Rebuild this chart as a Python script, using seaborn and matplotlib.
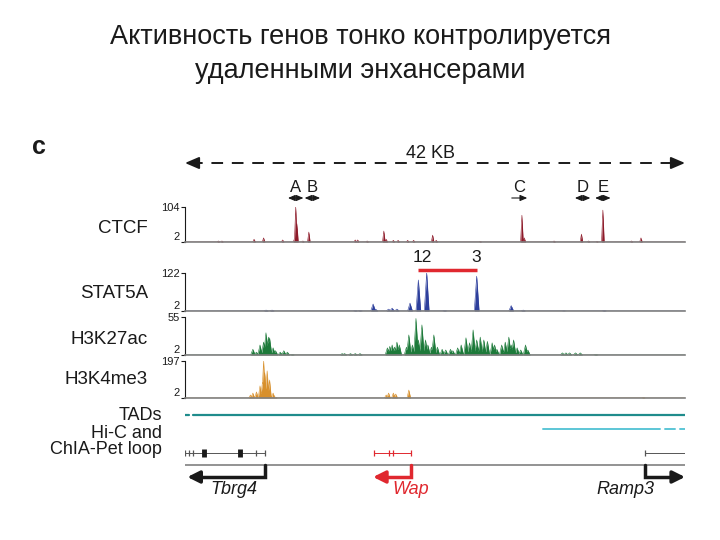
import numpy as np
import matplotlib
matplotlib.use('Agg')
import matplotlib.pyplot as plt
import seaborn as sns

# ---- данные (позиции в т.п.н. от левого края, 0..42) ----
ctcf_pos = [2.8, 3.1, 5.8, 6.6, 8.2, 9.2, 9.3, 9.4, 9.9, 10.4, 14.3, 14.5, 15.3, 16.7, 16.9,
            17.5, 17.9, 18.7, 19.2, 20.8, 21.1, 24.8, 28.3, 28.5, 31.0, 33.3, 33.9, 34.6,
            35.1, 37.5, 38.3]
ctcf_val = [5, 5, 10, 14, 8, 12, 104, 55, 5, 31, 8, 8, 5, 34, 10,
            7, 7, 7, 7, 22, 7, 4, 80, 14, 5, 25, 5, 4,
            95, 5, 14]

stat_pos = [6.8, 7.3, 14.3, 14.7, 15.8, 16.0, 17.1, 17.4, 17.8, 18.9, 19.6, 20.3, 21.8,
            24.5, 27.4, 28.4, 31.8, 35.2]
stat_val = [5, 5, 4, 4, 24, 8, 8, 11, 8, 27, 100, 122, 4, 112, 19, 5, 3, 4]

k27_pos = [5.7, 6.0, 6.3, 6.6, 6.8, 7.0, 7.1, 7.4, 7.6, 8.0, 8.3, 8.6, 9.0,
           13.2, 13.4, 13.9, 14.3, 14.7,
           17.0, 17.2, 17.4, 17.6, 17.8, 18.0, 18.6, 18.8, 19.1, 19.4, 19.6, 19.9, 20.2,
           20.4, 20.7, 20.9, 21.2, 21.6, 21.9, 22.3, 22.5, 22.9, 23.2, 23.6, 23.9, 24.2,
           24.5, 24.8, 25.1, 25.4, 25.8, 26.0, 26.2, 26.6, 26.9, 27.2, 27.4, 27.6, 27.9,
           28.2, 28.6, 28.8,
           31.7, 32.0, 32.3, 32.8, 33.2, 34.5]
k27_val = [10, 6, 16, 20, 33, 27, 26, 12, 8, 6, 8, 6, 3,
           4, 4, 4, 4, 4,
           12, 14, 16, 13, 20, 16, 13, 30, 16, 53, 23, 44, 23,
           16, 13, 30, 13, 10, 9, 10, 8, 12, 16, 26, 19, 37,
           23, 27, 23, 21, 19, 16, 10, 16, 20, 27, 16, 23, 12,
           9, 16, 9,
           5, 5, 5, 5, 5, 3]

k4_pos = [5.5, 5.7, 6.0, 6.3, 6.5, 6.6, 6.7, 6.9, 7.1, 7.4, 7.6, 16.9, 17.1, 17.5, 17.7, 18.8, 38.5]
k4_val = [18, 28, 34, 66, 82, 197, 135, 145, 97, 28, 7, 18, 28, 28, 23, 44, 6]

track_names = ['CTCF', 'STAT5A', 'H3K27ac', 'H3K4me3']
track_max = [104, 122, 55, 197]

motif_names = ['A', 'B', 'C', 'D', 'E']
motif_pos = [9.3, 10.7, 28.1, 33.4, 35.1]
motif_dir = ['both', 'both', 'right', 'both', 'both']

enh_names = ['12', '3']
enh_pos = [19.95, 24.5]
enh_span = [19.6, 24.5]

tad_segs = [(0.0, 0.3), (0.7, 42.0)]
hic_segs = [(30.1, 39.9), (40.3, 41.2), (41.6, 42.0)]

gene_names = ['Tbrg4', 'Wap', 'Ramp3']
gene_span = [(0.0, 6.7), (15.9, 19.0), (38.6, 42.0)]
gene_ticks = [[0.0, 0.35, 0.7, 6.0, 6.7], [15.9, 17.1, 17.5, 19.0], [38.6]]
gene_boxes = [[1.6, 4.6], [], []]
gene_tss = [6.7, 19.0, 38.6]
gene_end = [0.2, 15.8, 42.0]
gene_label_x = [4.1, 19.0, 37.0]

# ---- оформление ----
W, H = 720, 540
X0, X1 = 185, 685
colors = ['#8e1b2a', '#2d3f9c', '#1d7a3a', '#d8902c']
track_box = [(207, 242), (273, 311), (317, 355), (361, 398)]
label_y = [228, 293, 339, 380]
widths = [0.22, 0.4, 0.38, 0.3]
red = '#e0282f'
grey = '#808080'

sns.set_theme(style='white')
plt.rcParams['font.family'] = ['Liberation Sans', 'DejaVu Sans']
plt.rcParams['text.color'] = 'k'


def fx(px):
    return px / W


def fy(py):
    return 1 - py / H


def profile(grid, pos, val, w):
    y = np.full_like(grid, 2.0)
    for c, h in zip(pos, val):
        tri = h - (h - 2) * np.abs(grid - c) / (w / 2)
        y = np.maximum(y, tri)
    return y


fig = plt.figure(figsize=(7.2, 5.4), dpi=100)

# заголовок
fig.text(0.5, fy(37), 'Активность генов тонко контролируется', ha='center', va='center',
         fontsize=19.5)
fig.text(0.5, fy(71), 'удаленными энхансерами', ha='center', va='center', fontsize=19.5)
fig.text(fx(32), fy(147), 'c', ha='left', va='center', fontsize=18, fontweight='bold')

grid = np.linspace(0, 42, 4201)
tracks = [(ctcf_pos, ctcf_val), (stat_pos, stat_val), (k27_pos, k27_val), (k4_pos, k4_val)]

for i, (pos, val) in enumerate(tracks):
    top, bot = track_box[i]
    ax = fig.add_axes([fx(X0), fy(bot), fx(X1 - X0), (bot - top) / H])
    y = profile(grid, pos, val, widths[i])
    ax.fill_between(grid, 2, y, color=colors[i], lw=0)
    sns.lineplot(x=grid, y=y, ax=ax, color=colors[i], lw=0.4, errorbar=None)
    ax.set_xlim(0, 42)
    ax.set_ylim(2, track_max[i])
    ax.set_xticks([])
    ax.set_yticks([2, track_max[i]])
    labels = ax.set_yticklabels(['2', str(track_max[i])])
    labels[0].set_va('bottom')
    ax.set_xlabel('')
    ax.set_ylabel('')
    ax.tick_params(axis='y', direction='out', length=3, width=0.8, labelsize=8, pad=1,
                   left=True, colors='k')
    ax.patch.set_alpha(0)
    for s in ['top', 'right']:
        ax.spines[s].set_visible(False)
    ax.spines['left'].set_color('k')
    ax.spines['left'].set_linewidth(0.8)
    ax.spines['bottom'].set_color(grey)
    ax.spines['bottom'].set_linewidth(1.2)
    fig.text(fx(148), fy(label_y[i]), track_names[i], ha='right', va='center', fontsize=13.5)

# подписи нижних дорожек
fig.text(fx(162), fy(416), 'TADs', ha='right', va='center', fontsize=13)
fig.text(fx(162), fy(433), 'Hi-C and', ha='right', va='center', fontsize=13)
fig.text(fx(162), fy(450), 'ChIA-Pet loop', ha='right', va='center', fontsize=13)

# общая ось аннотаций: x в т.п.н., y в строках пикселей
ax0 = fig.add_axes([fx(X0), fy(505), fx(X1 - X0), 365 / H])
ax0.set_xlim(0, 42)
ax0.set_ylim(505, 140)
ax0.axis('off')

head = dict(color='k', lw=1.4, shrinkA=0, shrinkB=0,
            arrowstyle='-|>,head_length=0.7,head_width=0.3')
ax0.plot([0.5, 41.5], [163, 163], color='k', lw=1.4, dashes=(6, 4.5))
ax0.annotate('', xy=(0, 163), xytext=(0.9, 163), arrowprops=head)
ax0.annotate('', xy=(42, 163), xytext=(41.1, 163), arrowprops=head)
ax0.text(20.6, 153, '42 KB', ha='center', va='center', fontsize=13)

small = dict(color='k', lw=0.8, shrinkA=0, shrinkB=0)
for name, p, d in zip(motif_names, motif_pos, motif_dir):
    ax0.text(p, 188, name, ha='center', va='center', fontsize=12)
    style = '<|-|>,head_length=0.35,head_width=0.15' if d == 'both' else '-|>,head_length=0.35,head_width=0.15'
    ax0.annotate('', xy=(p + 0.65, 198), xytext=(p - 0.65, 198),
                 arrowprops=dict(arrowstyle=style, **small))

ax0.plot(enh_span, [270, 270], color=red, lw=2.5, solid_capstyle='butt')
for name, p in zip(enh_names, enh_pos):
    ax0.text(p, 258, name, ha='center', va='center', fontsize=12.5)

for a, b in tad_segs:
    ax0.plot([a, b], [415, 415], color='#1f8c8c', lw=1.6)
for a, b in hic_segs:
    ax0.plot([a, b], [429, 429], color='#5cc6d6', lw=1.4)

# гены
ax0.plot([0, 42], [465, 465], color=grey, lw=1.2)
for i, name in enumerate(gene_names):
    c = red if name == 'Wap' else 'k'
    lc = red if name == 'Wap' else '#555555'
    a, b = gene_span[i]
    ax0.plot([a, b], [453, 453], color=lc, lw=0.7)
    ax0.vlines(gene_ticks[i], 450, 456, color=lc, lw=0.9)
    if gene_boxes[i]:
        ax0.vlines(gene_boxes[i], 449, 457, color='k', lw=3.5)
    tss, end = gene_tss[i], gene_end[i]
    ax0.plot([tss, tss, end - np.sign(end - tss) * 0.9], [465, 477, 477], color=c, lw=2.5,
             solid_joinstyle='miter')
    ax0.annotate('', xy=(end, 477), xytext=(end - np.sign(end - tss) * 1.0, 477),
                 arrowprops=dict(color=c, lw=2.5, shrinkA=0, shrinkB=0,
                                 arrowstyle='-|>,head_length=0.6,head_width=0.3'))
    ax0.text(gene_label_x[i], 489, name, ha='center', va='center', fontsize=13,
             style='italic', color=c)

fig.savefig('out.png', dpi=100, facecolor='white')
